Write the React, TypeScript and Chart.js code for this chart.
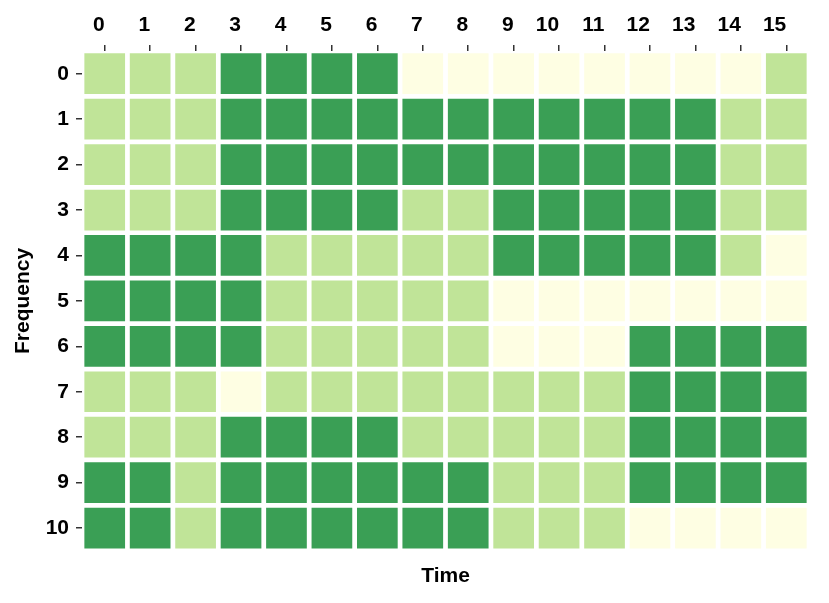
import React, { useEffect, useRef } from 'react';
import { Chart, registerables } from 'chart.js';

Chart.register(...registerables);

// Column (Time) labels and row (Frequency) labels
const timeLabels = ['0', '1', '2', '3', '4', '5', '6', '7', '8', '9', '10', '11', '12', '13', '14', '15'];
const freqLabels = [0, 1, 2, 3, 4, 5, 6, 7, 8, 9, 10];

// Cell levels per Frequency row: 0 = pale yellow, 1 = light green, 2 = dark green
const freq0 = [1, 1, 1, 2, 2, 2, 2, 0, 0, 0, 0, 0, 0, 0, 0, 1];
const freq1 = [1, 1, 1, 2, 2, 2, 2, 2, 2, 2, 2, 2, 2, 2, 1, 1];
const freq2 = [1, 1, 1, 2, 2, 2, 2, 2, 2, 2, 2, 2, 2, 2, 1, 1];
const freq3 = [1, 1, 1, 2, 2, 2, 2, 1, 1, 2, 2, 2, 2, 2, 1, 1];
const freq4 = [2, 2, 2, 2, 1, 1, 1, 1, 1, 2, 2, 2, 2, 2, 1, 0];
const freq5 = [2, 2, 2, 2, 1, 1, 1, 1, 1, 0, 0, 0, 0, 0, 0, 0];
const freq6 = [2, 2, 2, 2, 1, 1, 1, 1, 1, 0, 0, 0, 2, 2, 2, 2];
const freq7 = [1, 1, 1, 0, 1, 1, 1, 1, 1, 1, 1, 1, 2, 2, 2, 2];
const freq8 = [1, 1, 1, 2, 2, 2, 2, 1, 1, 1, 1, 1, 2, 2, 2, 2];
const freq9 = [2, 2, 1, 2, 2, 2, 2, 2, 2, 1, 1, 1, 2, 2, 2, 2];
const freq10 = [2, 2, 1, 2, 2, 2, 2, 2, 2, 1, 1, 1, 0, 0, 0, 0];

const levelColors = ['#fefee3', '#c0e498', '#3a9f55'];

const FONT = 'Liberation Sans, Arial, sans-serif';

export default function App() {
  const canvasRef = useRef<HTMLCanvasElement | null>(null);

  useEffect(() => {
    const canvas = canvasRef.current;
    if (!canvas) return;
    const rows = [freq0, freq1, freq2, freq3, freq4, freq5, freq6, freq7, freq8, freq9, freq10];
    const labelFont = { family: FONT, size: 21, weight: 'bold' as const };

    const chart = new Chart(canvas, {
      type: 'bar',
      data: {
        labels: timeLabels,
        datasets: rows.map((vals, r) => ({
          label: `Frequency ${freqLabels[r]}`,
          data: vals.map(() => [freqLabels[r] - 0.5, freqLabels[r] + 0.5]),
          backgroundColor: vals.map((v) => levelColors[v]),
          borderColor: '#ffffff',
          borderWidth: 2.7,
          borderSkipped: false,
          grouped: false,
          categoryPercentage: 1,
          barPercentage: 1,
        })) as any,
      },
      options: {
        animation: false,
        responsive: true,
        maintainAspectRatio: false,
        layout: { padding: { left: 0, right: 20, top: 0, bottom: 0 } },
        plugins: {
          legend: { display: false },
          tooltip: { enabled: false },
          title: {
            display: true,
            position: 'bottom',
            fullSize: false,
            text: 'Time',
            color: '#000',
            font: labelFont,
            padding: { top: 13, bottom: 14 },
          },
        },
        scales: {
          x: {
            type: 'category',
            position: 'top',
            offset: true,
            grid: {
              offset: false,
              drawOnChartArea: false,
              drawTicks: true,
              tickLength: 6,
              color: '#333',
              lineWidth: 1.5,
            },
            border: { display: false },
            ticks: {
              align: 'end',
              padding: 7,
              maxRotation: 0,
              autoSkip: false,
              color: '#000',
              font: labelFont,
            },
            afterFit: (s: any) => {
              s.height = 51;
            },
          },
          y: {
            type: 'linear',
            reverse: true,
            min: -0.5,
            max: 10.5,
            afterBuildTicks: (s: any) => {
              s.ticks = freqLabels.map((v) => ({ value: v }));
            },
            grid: {
              drawOnChartArea: false,
              drawTicks: true,
              tickLength: 6,
              color: '#333',
              lineWidth: 1.5,
            },
            border: { display: false },
            ticks: {
              padding: 7,
              color: '#000',
              font: labelFont,
              callback: (v: any) => String(v),
            },
            title: {
              display: true,
              text: 'Frequency',
              color: '#000',
              font: labelFont,
              padding: { top: 11, bottom: 4 },
            },
            afterFit: (s: any) => {
              s.width = 82;
            },
          },
        },
      } as any,
    });
    return () => chart.destroy();
  }, []);

  return (
    <div style={{ position: 'absolute', left: 0, top: 0, width: 829, height: 603, background: '#fff' }}>
      <canvas ref={canvasRef} />
    </div>
  );
}
